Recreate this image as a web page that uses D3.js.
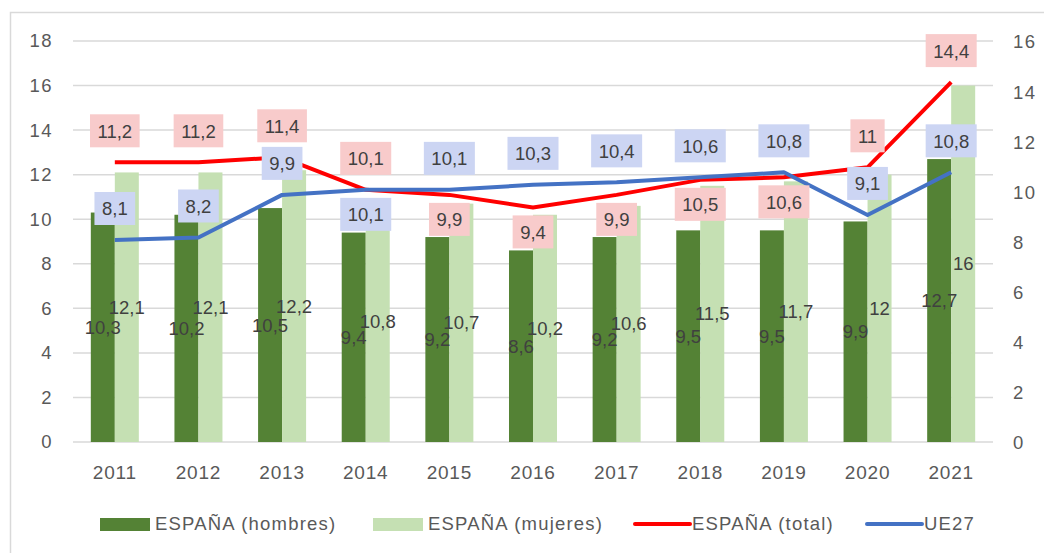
<!DOCTYPE html>
<html>
<head>
<meta charset="utf-8">
<script src="https://cdn.jsdelivr.net/npm/d3@7"></script>
<style>
  body { margin: 0; background: #fff; }
  text { font-family: "Liberation Sans", Arial, sans-serif; }
</style>
</head>
<body>
<script>
// data
let years = ["2011", "2012", "2013", "2014", "2015", "2016", "2017", "2018", "2019", "2020", "2021"];
let hombres = [10.3, 10.2, 10.5, 9.4, 9.2, 8.6, 9.2, 9.5, 9.5, 9.9, 12.7];
let mujeres = [12.1, 12.1, 12.2, 10.8, 10.7, 10.2, 10.6, 11.5, 11.7, 12, 16];
let total = [11.2, 11.2, 11.4, 10.1, 9.9, 9.4, 9.9, 10.5, 10.6, 11, 14.4];
let ue27 = [8.1, 8.2, 9.9, 10.1, 10.1, 10.3, 10.4, 10.6, 10.8, 9.1, 10.8];
// which side of the line each label sits on
let totalSide = ["up", "up", "up", "up", "down", "down", "down", "down", "down", "up", "up"];
let ueSide = ["up", "up", "up", "down", "up", "up", "up", "up", "up", "up", "up"];
let leftTicks = [0, 2, 4, 6, 8, 10, 12, 14, 16, 18];
let rightTicks = [0, 2, 4, 6, 8, 10, 12, 14, 16];
let legendItems = [
  { name: "ESPAÑA (hombres)", kind: "rect", color: "#548235" },
  { name: "ESPAÑA (mujeres)", kind: "rect", color: "#c5e0b3" },
  { name: "ESPAÑA (total)", kind: "line", color: "#ff0000" },
  { name: "UE27", kind: "line", color: "#4472c4" }
];

let width = 1044;
let height = 553;
let plotLeft = 73, plotRight = 993, plotTop = 41, plotBottom = 442;

let svg = d3.select("body").append("svg")
  .attr("width", width)
  .attr("height", height);

// outer frame (only left/top visible in the picture)
svg.append("path")
  .attr("d", `M10.5,${height}V12.5H${width}`)
  .attr("fill", "none")
  .attr("stroke", "#d9d9d9")
  .attr("stroke-width", 1.5);

let x = d3.scaleBand().domain(years).range([plotLeft, plotRight]).paddingInner(0.426).paddingOuter(0.213);
let xSub = d3.scaleBand().domain(["h", "m"]).range([0, x.bandwidth()]);
let y = d3.scaleLinear().domain([0, 18]).range([plotBottom, plotTop]);
let y2 = d3.scaleLinear().domain([0, 16]).range([plotBottom + 1, plotTop + 1]);
let cx = (yr) => x(yr) + x.bandwidth() / 2;

// gridlines
svg.append("g")
  .selectAll("line")
  .data(leftTicks)
  .join("line")
  .attr("x1", plotLeft).attr("x2", plotRight)
  .attr("y1", (d) => y(d)).attr("y2", (d) => y(d))
  .attr("stroke", "#d9d9d9")
  .attr("stroke-width", 1.5);

// left axis
let yAxis = svg.append("g")
  .attr("transform", `translate(${plotLeft - 20},0)`)
  .call(d3.axisLeft(y).tickValues(leftTicks).tickSize(0).tickPadding(0));
yAxis.select(".domain").remove();
yAxis.selectAll("text").attr("font-size", 18.5).attr("fill", "#595959")
  .attr("font-family", "Liberation Sans").attr("letter-spacing", 1.5);

// right axis
let y2Axis = svg.append("g")
  .attr("transform", `translate(1013,0)`)
  .call(d3.axisRight(y2).tickValues(rightTicks).tickSize(0).tickPadding(0));
y2Axis.select(".domain").remove();
y2Axis.selectAll("text").attr("font-size", 18.5).attr("fill", "#595959")
  .attr("font-family", "Liberation Sans").attr("letter-spacing", 1.5);

// x axis
let xAxis = svg.append("g")
  .attr("transform", `translate(0,${plotBottom})`)
  .call(d3.axisBottom(x).tickSize(0).tickPadding(24));
xAxis.select(".domain").remove();
xAxis.selectAll("text").attr("font-size", 19).attr("fill", "#595959")
  .attr("font-family", "Liberation Sans").attr("letter-spacing", 0.8);

// bars
let barData = years.flatMap((yr, i) => [
  { yr, key: "h", v: hombres[i], color: "#548235" },
  { yr, key: "m", v: mujeres[i], color: "#c5e0b3" }
]);
svg.append("g")
  .selectAll("rect")
  .data(barData)
  .join("rect")
  .attr("x", (d) => x(d.yr) + xSub(d.key))
  .attr("width", xSub.bandwidth())
  .attr("y", (d) => y(d.v))
  .attr("height", (d) => y(0) - y(d.v))
  .attr("fill", (d) => d.color);

let fmt = (v) => String(v).replace(".", ",");

// bar value labels, at bar middle
svg.append("g")
  .selectAll("text")
  .data(barData)
  .join("text")
  .attr("x", (d) => x(d.yr) + xSub(d.key) + xSub.bandwidth() / 2)
  .attr("y", (d) => y(d.v / 2))
  .attr("dy", "0.35em")
  .attr("text-anchor", "middle")
  .attr("font-size", 18.5)
  .attr("fill", "#404040")
  .text((d) => fmt(d.v));

// lines on secondary axis
let line = d3.line()
  .x((d, i) => cx(years[i]))
  .y((d) => y2(d));

svg.append("path")
  .datum(total)
  .attr("d", line)
  .attr("fill", "none")
  .attr("stroke", "#ff0000")
  .attr("stroke-width", 4)
  .attr("stroke-linejoin", "round");

svg.append("path")
  .datum(ue27)
  .attr("d", line)
  .attr("fill", "none")
  .attr("stroke", "#4472c4")
  .attr("stroke-width", 4)
  .attr("stroke-linejoin", "round");

// boxed labels for the lines
let drawBoxLabels = (vals, sides, fill) => {
  let g = svg.append("g");
  vals.forEach((v, i) => {
    let px = cx(years[i]);
    let py = y2(v) + (sides[i] === "up" ? -31 : 25);
    let lg = g.append("g").attr("transform", `translate(${px},${py})`);
    let box = lg.append("rect").attr("fill", fill);
    let t = lg.append("text")
      .attr("text-anchor", "middle")
      .attr("dy", "0.35em")
      .attr("font-size", 18.5)
      .attr("fill", "#404040")
      .text(fmt(v));
    let w = t.node().getComputedTextLength() + 15;
    box.attr("x", -w / 2).attr("y", -17).attr("width", w).attr("height", 33);
  });
};
drawBoxLabels(total, totalSide, "#f8cbcb");
drawBoxLabels(ue27, ueSide, "#ccd5f3");

// legend
let legendX = [100, 373, 635, 867];
let legend = svg.append("g");
legendItems.forEach((item, i) => {
  let g = legend.append("g").attr("transform", `translate(${legendX[i]},524)`);
  if (item.kind === "rect") {
    g.append("rect").attr("x", 0).attr("y", -6).attr("width", 50).attr("height", 13).attr("fill", item.color);
  } else {
    g.append("line").attr("x1", 0).attr("x2", 55).attr("y1", 0).attr("y2", 0)
      .attr("stroke", item.color).attr("stroke-width", 4).attr("stroke-linecap", "round");
  }
  g.append("text")
    .attr("x", item.kind === "rect" ? 55 : 57)
    .attr("dy", "0.35em")
    .attr("font-size", 18.5)
    .attr("letter-spacing", 1.2)
    .attr("fill", "#595959")
    .text(item.name);
});
</script>
</body>
</html>
